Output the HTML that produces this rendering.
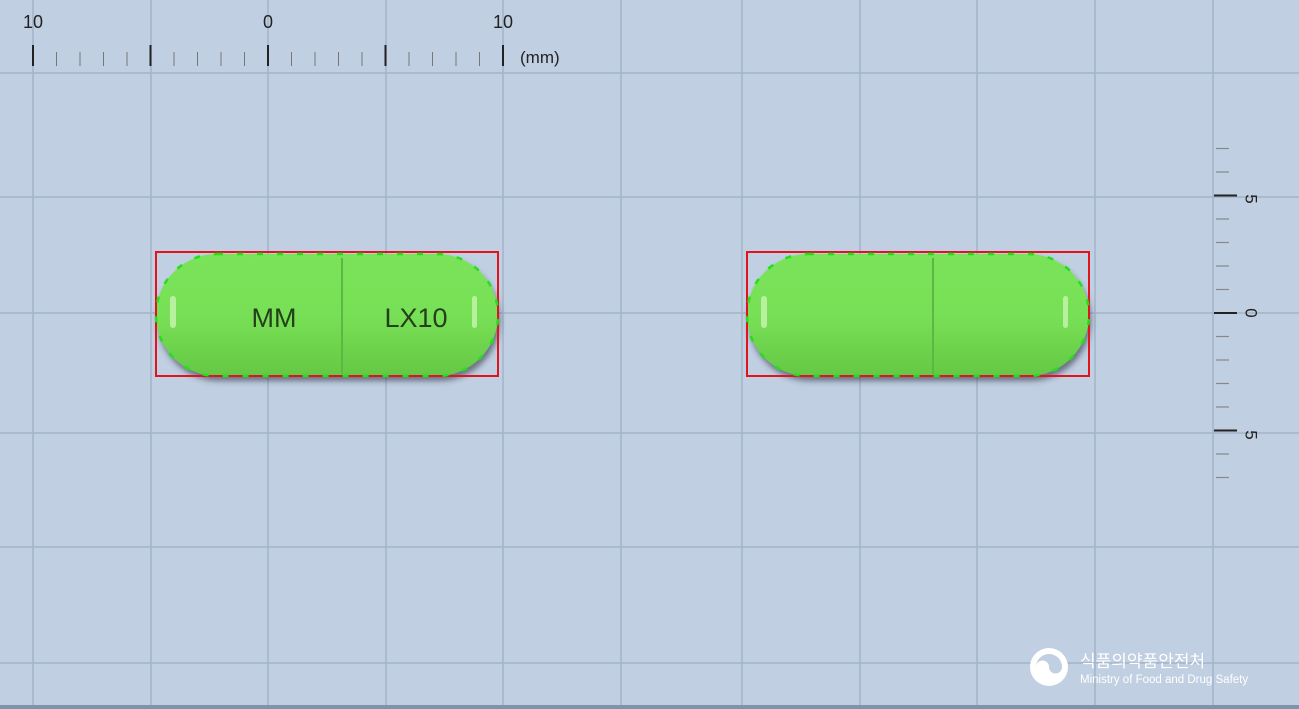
<!DOCTYPE html>
<html><head><meta charset="utf-8">
<style>
html,body{margin:0;padding:0;}
body{width:1299px;height:709px;overflow:hidden;background:#c0cfe1;position:relative;font-family:"Liberation Sans","Noto Sans CJK KR",sans-serif;}
svg{position:absolute;left:0;top:0;}
</style></head>
<body>
<svg id="s" width="1299" height="709" viewBox="0 0 1299 709">
<defs>
<linearGradient id="cap" x1="0" y1="0" x2="0" y2="1">
<stop offset="0" stop-color="#7ae35a"/><stop offset="0.5" stop-color="#78e056"/><stop offset="1" stop-color="#64c845"/>
</linearGradient>
<filter id="sh" x="-10%" y="-20%" width="120%" height="150%"><feDropShadow dx="2" dy="5" stdDeviation="3" flood-color="#334" flood-opacity="0.6"/></filter>
</defs>
<g id="grid"></g>
<g id="ruler"></g>
<g id="pills"></g>
<g>
<circle cx="1049" cy="667" r="19" fill="#fff"/>
<path d="M1036,667 a13,13 0 0 1 26,0 a6.5,6.5 0 0 1 -13,0 a6.5,6.5 0 0 0 -13,0z" fill="#c0cfe1"/>
<text x="1080" y="667" font-size="17" fill="#fff">식품의약품안전처</text>
<text x="1080" y="683" font-size="11.5" fill="#fff">Ministry of Food and Drug Safety</text>
</g>
</svg>
<script>
const NS="http://www.w3.org/2000/svg";
const vLines=[33,151,268,386,503,621,742,860,977,1095,1213];
const hLines=[73,197,313,433,547,663];
const topLabels=["10","0","10"];
const rightLabels=["5","0","5"];
const pillTexts=[["MM","LX10"],["",""]];
const pillX=[156,747];
function mk(tag,attrs,parent){const e=document.createElementNS(NS,tag);for(const k in attrs)e.setAttribute(k,attrs[k]);parent.appendChild(e);return e;}
const g=document.getElementById('grid');
vLines.forEach(x=>{const l=mk('line',{x1:x,y1:0,x2:x,y2:709,stroke:'#a2b4c9','stroke-width':1.5},g);

});
hLines.forEach(y=>{const l=mk('line',{x1:0,y1:y,x2:1299,y2:y,stroke:'#a2b4c9','stroke-width':1.5},g);

});
const bb=mk('rect',{x:0,y:705,width:1299,height:4,fill:'#8093ad'},g);


const r=document.getElementById('ruler');
const mm=23.5;
for(let i=-10;i<=10;i++){const x=268+i*mm;const major=i%5===0;
const t=mk('line',{x1:x,y1:major?45:52,x2:x,y2:66,stroke:major?'#222':'#777','stroke-width':major?2:1},r);

}
topLabels.forEach((s,i)=>{const t=mk('text',{x:[33,268,503][i],y:28,'font-size':18,fill:'#222','text-anchor':'middle'},r);t.textContent=s;

});
const u=mk('text',{x:520,y:63,'font-size':17,fill:'#222'},r);u.textContent='(mm)';


for(let i=-7;i<=7;i++){const y=313+i*23.5;const major=i%5===0;
const t=mk('line',{x1:major?1214:1216,y1:y,x2:major?1237:1229,y2:y,stroke:major?'#222':'#888','stroke-width':major?2:1.2},r);

}
rightLabels.forEach((s,i)=>{const y=[199,313,435][i];const t=mk('text',{x:1250,y:y,'font-size':17,fill:'#222','text-anchor':'middle',transform:`rotate(90 1250 ${y})`,'dominant-baseline':'middle'},r);t.textContent=s;

});
const p=document.getElementById('pills');
pillX.forEach((x0,i)=>{const pg=mk('g',{},p);


mk('rect',{x:x0,y:254,width:342,height:122,rx:61,fill:'url(#cap)',filter:'url(#sh)'},pg);
mk('line',{x1:x0+186,y1:258,x2:x0+186,y2:374,stroke:'#5cb843','stroke-width':2},pg);
mk('rect',{x:x0+14,y:296,width:6,height:32,rx:3,fill:'#c8f5b0',opacity:0.8},pg);
mk('rect',{x:x0+316,y:296,width:5,height:32,rx:2.5,fill:'#c8f5b0',opacity:0.8},pg);
mk('rect',{x:x0,y:252,width:342,height:124,fill:'none',stroke:'#e0141a','stroke-width':2},pg);
mk('rect',{x:x0,y:254,width:342,height:122,rx:61,fill:'none',stroke:'#22e01a','stroke-width':2.5,'stroke-dasharray':'6 14'},pg);
const a=mk('text',{x:x0+118,y:327,'font-size':27,fill:'#243f1a','text-anchor':'middle'},pg);a.textContent=pillTexts[i][0];


const b=mk('text',{x:x0+260,y:327,'font-size':27,fill:'#243f1a','text-anchor':'middle'},pg);b.textContent=pillTexts[i][1];


});
</script>
</body></html>
